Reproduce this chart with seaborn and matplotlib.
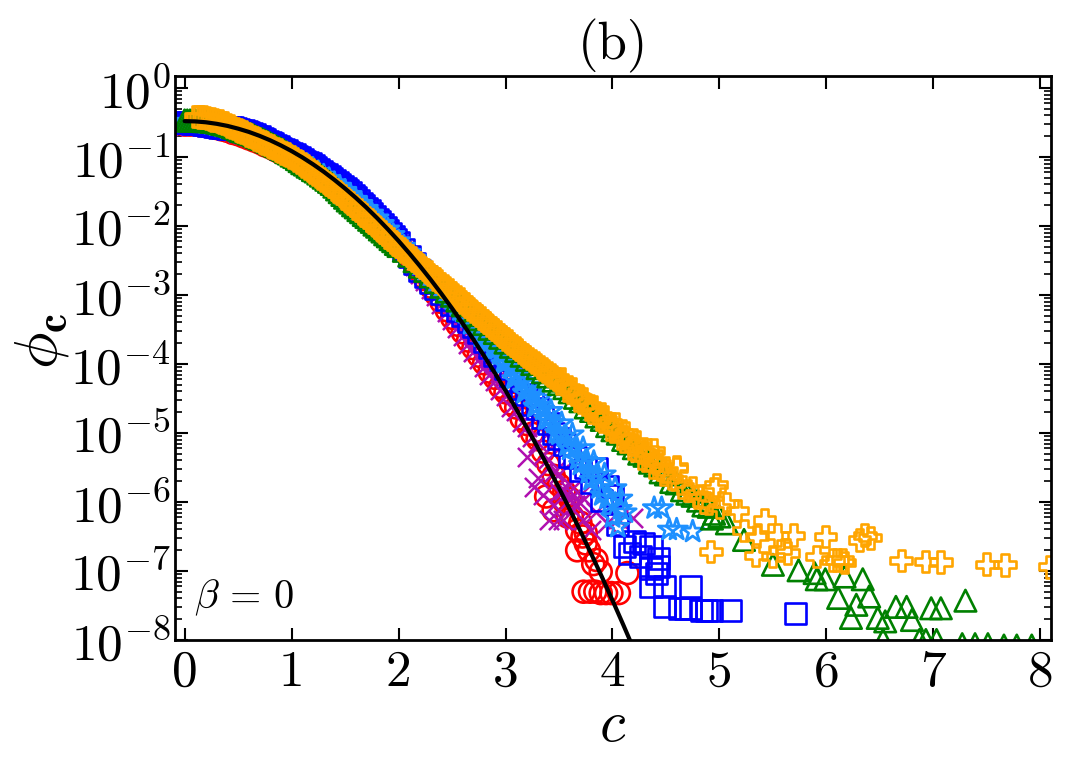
import numpy as np
import matplotlib
matplotlib.use("Agg")
import matplotlib.pyplot as plt
from matplotlib.ticker import LogLocator, NullFormatter, LogFormatterMathtext
import seaborn as sns

# Shared abscissae of the densely sampled part of each distribution
c_grid = [0.00, 0.05, 0.10, 0.15, 0.20, 0.25, 0.30, 0.35, 0.40, 0.45,
          0.50, 0.55, 0.60, 0.65, 0.70, 0.75, 0.80, 0.85, 0.90, 0.95,
          1.00, 1.05, 1.10, 1.15, 1.20, 1.25, 1.30, 1.35, 1.40, 1.45,
          1.50, 1.55, 1.60, 1.65, 1.70, 1.75, 1.80, 1.85, 1.90, 1.95,
          2.00, 2.05, 2.10, 2.15, 2.20, 2.25, 2.30, 2.35, 2.40, 2.45,
          2.50, 2.55, 2.60, 2.65, 2.70, 2.75, 2.80, 2.85, 2.90, 2.95,
          3.00, 3.05, 3.10, 3.15, 3.20, 3.25, 3.30, 3.35, 3.40, 3.45,
          3.50, 3.55, 3.60, 3.65, 3.70, 3.75, 3.80, 3.85, 3.90, 3.95,
          4.00, 4.05, 4.10, 4.15, 4.20, 4.25, 4.30, 4.35, 4.40, 4.45,
          4.50, 4.55, 4.60, 4.65, 4.70, 4.75, 4.80, 4.85, 4.90, 4.95,
          5.00]
c_half = [0.025, 0.075, 0.125, 0.175, 0.225, 0.275, 0.325, 0.375, 0.425, 0.475,
          0.525, 0.575, 0.625, 0.675, 0.725, 0.775, 0.825, 0.875, 0.925, 0.975,
          1.025, 1.075, 1.125, 1.175, 1.225, 1.275, 1.325, 1.375, 1.425, 1.475,
          1.525, 1.575, 1.625, 1.675, 1.725, 1.775, 1.825, 1.875, 1.925, 1.975,
          2.025, 2.075, 2.125, 2.175, 2.225, 2.275, 2.325, 2.375, 2.425, 2.475,
          2.525, 2.575, 2.625, 2.675, 2.725, 2.775, 2.825, 2.875, 2.925, 2.975,
          3.025, 3.075, 3.125, 3.175, 3.225, 3.275, 3.325, 3.375, 3.425, 3.475,
          3.525, 3.575, 3.625, 3.675, 3.725, 3.775, 3.825, 3.875, 3.925, 3.975,
          4.025, 4.075, 4.125, 4.175, 4.225, 4.275, 4.325, 4.375, 4.425, 4.475]

# log10(phi_c) on c_grid, one list per data set
red_main = [-.53, -.53, -.53, -.54, -.55, -.56, -.58, -.60, -.62, -.65,
            -.67, -.70, -.73, -.76, -.79, -.83, -.86, -.90, -.94, -.96,
            -.98, -1.03, -1.07, -1.12, -1.17, -1.22, -1.28, -1.33, -1.38, -1.44,
            -1.50, -1.56, -1.63, -1.72, -1.82, -1.92, -2.02, -2.10, -2.18, -2.24,
            -2.30, -2.36, -2.44, -2.55, -2.66, -2.77, -2.88, -2.99, -3.10, -3.22,
            -3.33, -3.43, -3.54, -3.66, -3.77, -3.88, -3.99, -4.11, -4.20, -4.33,
            -4.41, -4.57, -4.63, -4.79, -4.87, -5.01, -5.09, -5.27, -5.45, -5.62,
            -5.75, -5.85, -5.95]
magenta_main = [-.55, -.55, -.55, -.55, -.56, -.57, -.58, -.60, -.61, -.63,
                -.65, -.67, -.70, -.72, -.75, -.78, -.80, -.83, -.86, -.91,
                -.96, -1.00, -1.05, -1.09, -1.14, -1.19, -1.25, -1.30, -1.36, -1.42,
                -1.49, -1.56, -1.63, -1.71, -1.80, -1.89, -1.98, -2.06, -2.15, -2.21,
                -2.28, -2.36, -2.47, -2.58, -2.69, -2.80, -2.91, -3.02, -3.13, -3.25,
                -3.36, -3.48, -3.59, -3.71, -3.82, -3.93, -4.04, -4.16, -4.24, -4.38,
                -4.46, -4.62, -4.68, -4.84, -4.92, -5.06, -5.14, -5.32, -5.38, -5.56,
                -5.60, -5.82, -5.84, -6.05, -6.02]
blue_main = [-.50, -.50, -.51, -.52, -.53, -.55, -.56, -.57, -.58, -.58,
             -.60, -.62, -.65, -.68, -.71, -.75, -.79, -.83, -.87, -.91,
             -.95, -.99, -1.04, -1.08, -1.13, -1.18, -1.24, -1.29, -1.34, -1.40,
             -1.46, -1.52, -1.59, -1.67, -1.74, -1.82, -1.90, -1.98, -2.06, -2.15,
             -2.24, -2.34, -2.44, -2.54, -2.64, -2.73, -2.82, -2.90, -2.98, -3.06,
             -3.14, -3.22, -3.30, -3.38, -3.46, -3.54, -3.68, -3.76, -3.87, -3.94,
             -4.06, -4.16, -4.24, -4.36, -4.44, -4.58, -4.64, -4.78, -4.86, -5.01,
             -5.08, -5.16, -5.34, -5.36, -5.54, -5.50, -5.72, -5.52, -5.98, -5.78,
             -5.90, -6.32]
star_main = [-.49, -.49, -.49, -.50, -.51, -.52, -.54, -.56, -.58, -.60,
             -.63, -.66, -.69, -.72, -.75, -.79, -.82, -.86, -.90, -.94,
             -.99, -1.03, -1.08, -1.12, -1.17, -1.22, -1.27, -1.32, -1.38, -1.43,
             -1.49, -1.55, -1.62, -1.68, -1.75, -1.82, -1.89, -1.97, -2.05, -2.13,
             -2.22, -2.30, -2.39, -2.47, -2.56, -2.64, -2.73, -2.81, -2.90, -2.98,
             -3.06, -3.15, -3.24, -3.32, -3.41, -3.50, -3.60, -3.68, -3.78, -3.86,
             -3.98, -4.06, -4.18, -4.26, -4.38, -4.46, -4.60, -4.66, -4.80, -4.85,
             -5.02, -5.05, -5.24, -5.22, -5.46, -5.40, -5.68, -5.62, -5.90, -5.95,
             -6.22, -6.36]
green_main = [-.47, -.47, -.47, -.47, -.48, -.49, -.50, -.52, -.54, -.57,
              -.60, -.63, -.66, -.69, -.73, -.76, -.80, -.84, -.88, -.93,
              -.98, -1.03, -1.09, -1.14, -1.19, -1.24, -1.30, -1.36, -1.43, -1.51,
              -1.59, -1.66, -1.73, -1.80, -1.87, -1.94, -2.01, -2.08, -2.15, -2.22,
              -2.29, -2.36, -2.43, -2.51, -2.59, -2.65, -2.73, -2.81, -2.88, -2.95,
              -3.01, -3.08, -3.15, -3.22, -3.29, -3.35, -3.42, -3.49, -3.55, -3.62,
              -3.69, -3.75, -3.81, -3.88, -3.94, -4.00, -4.06, -4.12, -4.18, -4.24,
              -4.29, -4.35, -4.41, -4.49, -4.54, -4.63, -4.68, -4.76, -4.81, -4.90,
              -4.96, -5.01, -5.10, -5.15, -5.22, -5.30, -5.33, -5.43, -5.47, -5.57,
              -5.60, -5.71, -5.73, -5.83, -5.88, -5.91, -5.98, -6.05, -6.07, -6.17,
              -6.21]
# The orange set starts at c = 0.10
orange_main = [-.41, -.42, -.43, -.45, -.47, -.50, -.53, -.57,
               -.61, -.64, -.68, -.72, -.76, -.80, -.84, -.88, -.92, -.96,
               -1.00, -1.05, -1.10, -1.16, -1.22, -1.28, -1.34, -1.40, -1.47, -1.53,
               -1.60, -1.67, -1.74, -1.81, -1.88, -1.95, -2.02, -2.09, -2.16, -2.23,
               -2.30, -2.37, -2.43, -2.50, -2.57, -2.63, -2.70, -2.77, -2.83, -2.90,
               -2.97, -3.03, -3.10, -3.17, -3.24, -3.30, -3.37, -3.44, -3.50, -3.57,
               -3.64, -3.70, -3.76, -3.83, -3.89, -3.95, -4.01, -4.07, -4.13, -4.19,
               -4.24, -4.30, -4.36, -4.44, -4.49, -4.58, -4.63, -4.71, -4.76, -4.85,
               -4.91, -4.96, -5.05, -5.10, -5.17, -5.25, -5.28, -5.38, -5.42, -5.52,
               -5.55, -5.66, -5.52, -5.78, -5.83, -5.80, -5.93, -6.00, -6.02, -5.81,
               -6.08]

# Additional samples on c_half
blue_half = [-.50, -.51, -.52, -.53, -.54, -.56, -.57, -.57, -.58, -.59,
             -.61, -.63, -.66, -.70, -.73, -.77, -.81, -.85, -.89, -.93,
             -.97, -1.01, -1.06, -1.10, -1.15, -1.21, -1.26, -1.31, -1.37, -1.43,
             -1.49, -1.56, -1.63, -1.70, -1.78, -1.86, -1.94, -2.02, -2.11, -2.20]
green_half = [-.47, -.47, -.47, -.48, -.48, -.49, -.51, -.53, -.55, -.58,
              -.62, -.64, -.67, -.71, -.74, -.78, -.82, -.86, -.90, -.95,
              -1.00, -1.06, -1.11, -1.16, -1.21, -1.27, -1.33, -1.39, -1.47, -1.55,
              -1.63, -1.70, -1.77, -1.84, -1.91, -1.98, -2.05, -2.12, -2.19, -2.26]
orange_half = [-.41, -.42, -.44, -.46, -.48, -.51, -.55, -.59,
               -.62, -.66, -.70, -.74, -.78, -.82, -.86, -.90, -.94, -.98,
               -1.02, -1.07, -1.13, -1.19, -1.25, -1.31, -1.37, -1.43, -1.50, -1.56,
               -1.63, -1.70, -1.77, -1.84, -1.91, -1.98, -2.05, -2.12, -2.19, -2.26,
               -2.33, -2.40, -2.46, -2.53, -2.60, -2.66, -2.73, -2.80, -2.86, -2.93,
               -3.00, -3.06, -3.13, -3.20, -3.27, -3.33, -3.40, -3.47, -3.53, -3.60,
               -3.67, -3.73, -3.79, -3.86, -3.92, -3.98, -4.04, -4.10, -4.16, -4.22,
               -4.22, -4.38, -4.36, -4.52, -4.50, -4.66, -4.62, -4.80, -4.76, -4.94,
               -4.86, -5.08, -5.00, -5.22, -5.12, -5.36, -5.24, -5.50, -5.40, -5.60]
star_half = [-2.94, -3.02, -3.08, -3.22, -3.26, -3.42, -3.44, -3.60, -3.60, -3.80,
             -3.78, -4.00, -3.96, -4.22, -4.16, -4.42, -4.32, -4.62, -4.50, -4.80,
             -4.68, -5.00, -4.86, -5.18, -5.02, -5.38, -5.22, -5.58, -5.42, -5.80,
             -5.60, -6.02, -5.80, -6.10]

# Sparse far-tail samples of each data set
red_tail_c = [3.38, 3.45, 3.58, 3.67, 3.75, 3.67, 3.75, 3.85, 3.89, 4.14,
              3.73, 3.79, 3.84, 3.89, 3.94, 3.99, 4.06,
              3.55, 3.62, 3.70, 3.72, 3.78, 3.82]
red_tail = [-5.92, -6.12, -6.21, -6.41, -6.45, -6.70, -6.60, -6.84, -7.01, -7.03,
            -7.30, -7.30, -7.30, -7.32, -7.32, -7.32, -7.32,
            -6.00, -6.20, -6.30, -6.50, -6.70, -6.90]
magenta_tail_c = [3.20, 3.27, 3.30, 3.35, 3.41, 3.45, 3.49, 3.50, 3.54, 3.60,
                  3.65, 3.70, 3.72, 3.80, 3.85, 3.95, 4.05, 4.19]
magenta_tail = [-5.35, -5.78, -5.65, -5.90, -6.26, -6.05, -6.26, -5.85, -6.26, -5.95,
                -6.05, -5.90, -6.26, -6.40, -6.15, -6.30, -6.25, -6.23]
blue_tail_c = [4.11, 4.21, 4.29, 4.16, 4.36, 4.26, 4.43, 4.36, 4.43, 4.41,
               4.36, 4.49, 4.73, 4.49, 4.63, 4.68, 4.73, 4.83, 4.88, 4.93,
               5.10, 5.71]
blue_tail = [-6.65, -6.57, -6.60, -6.74, -6.65, -6.79, -6.82, -6.96, -6.94, -7.03,
             -7.23, -7.23, -7.23, -7.52, -7.54, -7.54, -7.55, -7.57, -7.57, -7.57,
             -7.57, -7.61]
star_tail_c = [4.08, 4.12, 4.39, 4.46, 4.53, 4.60, 4.75]
star_tail = [-5.95, -6.15, -6.09, -6.09, -6.40, -6.40, -6.43]
green_tail_c = [4.93, 5.07, 5.23, 5.50, 5.74, 5.89, 5.99, 5.91, 6.17, 6.34,
                6.11, 6.28, 6.40, 6.23, 6.48, 6.65, 6.75, 6.80, 6.55, 6.53,
                6.98, 7.07, 7.30, 6.87, 6.93, 7.03, 7.27, 7.39, 7.51, 7.66,
                7.78, 7.92]
green_tail = [-6.24, -6.31, -6.55, -6.91, -6.99, -7.03, -7.12, -7.12, -7.08, -7.12,
              -7.39, -7.49, -7.37, -7.68, -7.68, -7.52, -7.52, -7.71, -7.73, -8.00,
              -7.54, -7.54, -7.43, -8.00, -8.00, -8.00, -8.06, -8.06, -8.06, -8.08,
              -8.08, -8.08]
orange_tail_c = [4.38, 4.60, 4.97, 5.07, 5.17, 5.23, 5.35, 5.54, 5.57, 5.64,
                 5.50, 4.92, 5.34, 5.42, 5.69, 5.99, 5.91, 6.17, 6.36, 6.31,
                 6.41, 6.06, 6.10, 6.15, 6.70, 6.93, 7.07, 7.50, 7.67, 8.09]
orange_tail = [-5.25, -5.49, -5.75, -6.02, -6.12, -6.41, -6.50, -6.48, -6.70, -6.74,
               -6.79, -6.72, -6.77, -6.26, -6.48, -6.50, -6.79, -6.88, -6.48, -6.55,
               -6.52, -6.84, -6.84, -6.84, -6.85, -6.86, -6.87, -6.90, -6.91, -6.94]

# Reference curve
curve_c = [0.0, 0.1, 0.2, 0.3, 0.4, 0.5, 0.6, 0.7, 0.8, 0.9,
           1.0, 1.1, 1.2, 1.3, 1.4, 1.5, 1.6, 1.7, 1.8, 1.9,
           2.0, 2.1, 2.2, 2.3, 2.4, 2.5, 2.6, 2.7, 2.8, 2.9,
           3.0, 3.1, 3.2, 3.3, 3.4, 3.5, 3.6, 3.7, 3.8, 3.9,
           4.0, 4.1, 4.2, 4.3]
curve_log = [-.480, -.484, -.497, -.519, -.549, -.589, -.636, -.693, -.758, -.832,
             -.914, -1.005, -1.105, -1.213, -1.331, -1.457, -1.591, -1.734, -1.886, -2.047,
             -2.216, -2.394, -2.581, -2.776, -2.980, -3.193, -3.414, -3.644, -3.883, -4.130,
             -4.386, -4.651, -4.924, -5.206, -5.497, -5.797, -6.105, -6.421, -6.747, -7.081,
             -7.424, -7.776, -8.136, -8.505]

x_ticks = [0, 1, 2, 3, 4, 5, 6, 7, 8]
x_tick_labels = ["0", "1", "2", "3", "4", "5", "6", "7", "8"]

sns.set_theme(style="ticks")
plt.rcParams.update({
    "font.family": ["cmr10", "DejaVu Sans"],
    "mathtext.fontset": "cm",
    "mathtext.default": "rm",
    "axes.unicode_minus": False,
    "axes.formatter.use_mathtext": True,
    "text.color": "black",
    "axes.labelcolor": "black",
    "xtick.color": "black",
    "ytick.color": "black",
})

fig = plt.figure(figsize=(10.68, 7.68), dpi=100)
ax = fig.add_axes([175 / 1068, 1 - 640 / 768, 876 / 1068, 564 / 768])

layers = [
    (c_grid[:len(red_main)], red_main, red_tail_c, red_tail, "red", "o", 250, 1.9),
    (c_grid[:len(magenta_main)], magenta_main, magenta_tail_c, magenta_tail, "#b010b0", "x", 190, 1.8),
    (c_grid[:len(blue_main)] + c_half[:len(blue_half)], blue_main + blue_half,
     blue_tail_c, blue_tail, "blue", "s", 230, 1.9),
    (c_grid[:len(star_main)] + c_half[48:48 + len(star_half)], star_main + star_half,
     star_tail_c, star_tail, "dodgerblue", "*", 270, 2.0),
    (c_grid[:len(green_main)] + c_half[:len(green_half)], green_main + green_half,
     green_tail_c, green_tail, "green", "^", 240, 1.9),
    (c_grid[2:2 + len(orange_main)] + c_half[2:2 + len(orange_half)], orange_main + orange_half,
     orange_tail_c, orange_tail, "orange", "P", 240, 1.9),
]
for c_dense, dense, tail_c, tail, color, marker, size, edge in layers:
    xs = np.array(c_dense + tail_c)
    ys = 10.0 ** np.array(dense + tail)
    if marker == "x":
        sns.scatterplot(x=xs, y=ys, marker=marker, s=size, color=color,
                        linewidth=edge, ax=ax, zorder=2)
    else:
        sns.scatterplot(x=xs, y=ys, marker=marker, s=size, facecolor="none",
                        edgecolor=color, linewidth=edge, ax=ax, zorder=2)

sns.lineplot(x=curve_c, y=10.0 ** np.array(curve_log), color="black", linewidth=3,
             estimator=None, sort=False, ax=ax, zorder=3)

ax.set_yscale("log")
ax.set_xlim(-0.09, 8.1)
ax.set_ylim(1e-8, 10 ** 0.174)

ax.set_xticks(x_ticks)
ax.set_xticklabels(x_tick_labels)
ax.yaxis.set_major_locator(LogLocator(base=10, numticks=12))
ax.yaxis.set_major_formatter(LogFormatterMathtext())
ax.yaxis.set_minor_locator(LogLocator(base=10, subs=np.arange(2, 10), numticks=12))
ax.yaxis.set_minor_formatter(NullFormatter())
ax.tick_params(axis="both", which="major", direction="in", length=9, width=1.5,
               top=True, right=True, labelsize=37, pad=7)
ax.tick_params(axis="y", which="major", pad=3)
ax.tick_params(axis="y", which="minor", direction="in", length=5, width=1.2,
               left=True, right=True)
for spine in ax.spines.values():
    spine.set_linewidth(2)
    spine.set_color("black")

ax.set_title("(b)", fontsize=38, pad=12)
ax.set_xlabel(r"$\mathit{c}$", fontsize=42, labelpad=4)
ax.set_ylabel(r"$\phi_{\mathbf{c}}$", fontsize=44, va="center")
ax.yaxis.set_label_coords(-0.152, 0.53)
ax.text(0.022, 0.075, r"$\beta\,=\,0$", transform=ax.transAxes, fontsize=29,
        ha="left", va="center")

fig.savefig("out.png", dpi=100)
